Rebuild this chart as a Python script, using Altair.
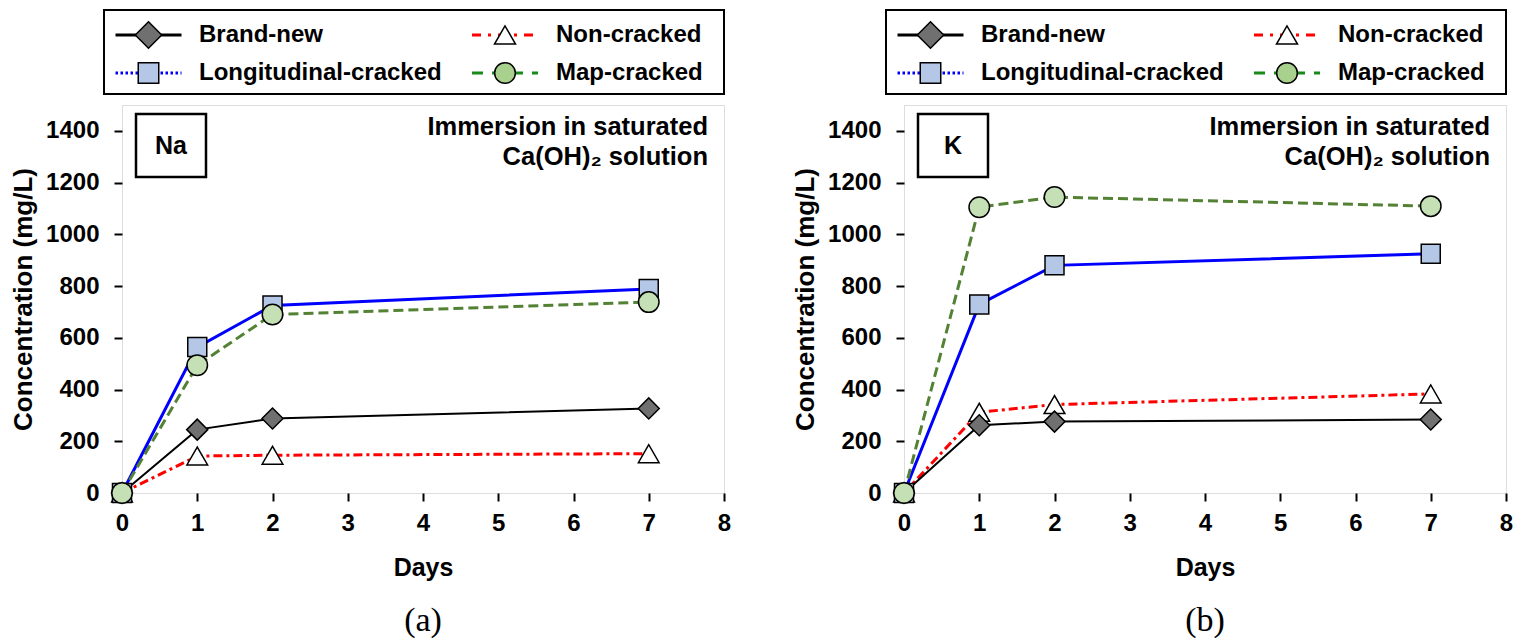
import altair as alt
import pandas as pd

# ---------------- data ----------------
DAYS = [0, 1, 2, 7]
SERIES = ["Brand-new", "Longitudinal-cracked", "Non-cracked", "Map-cracked"]

NA_BRAND_NEW = [0, 245, 288, 327]
NA_LONGITUDINAL = [0, 564, 725, 789]
NA_NON_CRACKED = [0, 143, 146, 152]
NA_MAP_CRACKED = [0, 494, 690, 738]

K_BRAND_NEW = [0, 262, 276, 284]
K_LONGITUDINAL = [0, 729, 880, 925]
K_NON_CRACKED = [0, 312, 342, 383]
K_MAP_CRACKED = [0, 1105, 1144, 1109]

X_TICKS = [0, 1, 2, 3, 4, 5, 6, 7, 8]
Y_TICKS = [0, 200, 400, 600, 800, 1000, 1200, 1400]
ANNOT_LINES = ["Immersion in saturated", "Ca(OH)\u2082 solution"]

# ---------------- styles ----------------
FONT = "Liberation Sans, Arial, sans-serif"
SERIF = "Liberation Serif, Times New Roman, serif"
W, H = 602, 388

STYLE = {
    "Brand-new": dict(line="black", lw=2, dash=None, shape="diamond", fill="#707070", size=441,
                      leg_line="black", leg_dash=None, leg_fill="#707070", leg_size=700),
    "Longitudinal-cracked": dict(line="#0000ff", lw=3, dash=None, shape="square", fill="#b4c7e7", size=361,
                                 leg_line="#0000ff", leg_dash=[2.5, 2.5], leg_fill="#b4c7e7", leg_size=420),
    "Non-cracked": dict(line="#ff0000", lw=3, dash=[9, 4, 3, 4], shape="triangle-up", fill="white", size=430,
                        leg_line="#ff0000", leg_dash=[9, 7, 3, 7], leg_fill="white", leg_size=440),
    "Map-cracked": dict(line="#548235", lw=3, dash=[10, 5], shape="circle", fill="#c5e0b4", size=420,
                        leg_line="#178a17", leg_dash=[11, 9], leg_fill="#a9d18e", leg_size=430),
}
DRAW_ORDER = ["Non-cracked", "Brand-new", "Longitudinal-cracked", "Map-cracked"]

# legend layout (pixels, relative to the legend box)
LEG_W, LEG_H, LEG_SHIFT = 620, 84, 18
MARK_X = [44.5, 401]
TEXT_X = [95, 452]
ROW_Y = [25, 63]
LINE_HALF = 33


def legend_chart():
    rows = []
    for i, s in enumerate(SERIES):
        col, row = i // 2, i % 2
        rows.append(dict(series=s, mx=MARK_X[col], lx0=MARK_X[col] - LINE_HALF,
                         lx1=MARK_X[col] + LINE_HALF, tx=TEXT_X[col], ry=ROW_Y[row]))
    leg = pd.DataFrame(rows)
    lx = alt.Scale(domain=[LEG_SHIFT, LEG_SHIFT + W], nice=False, zero=False)
    ly = alt.Scale(domain=[0, LEG_H], nice=False, zero=False, reverse=True)
    box_df = pd.DataFrame({"x0": [0], "x1": [LEG_W], "y0": [0], "y1": [LEG_H]})
    layers = [
        alt.Chart(box_df).mark_rect(fill="white", stroke="black", strokeWidth=2).encode(
            x=alt.X("x0:Q", scale=lx, axis=None), x2="x1:Q",
            y=alt.Y("y0:Q", scale=ly, axis=None), y2="y1:Q")
    ]
    for s in SERIES:
        st = STYLE[s]
        d = leg[leg["series"] == s]
        rk = dict(color=st["leg_line"], strokeWidth=3)
        if st["leg_dash"]:
            rk["strokeDash"] = st["leg_dash"]
        layers.append(alt.Chart(d).mark_rule(**rk).encode(
            x=alt.X("lx0:Q", scale=lx, axis=None), x2="lx1:Q",
            y=alt.Y("ry:Q", scale=ly, axis=None)))
        layers.append(alt.Chart(d).mark_point(
            shape=st["shape"], size=st["leg_size"], filled=True, fill=st["leg_fill"],
            stroke="black", strokeWidth=1.5, opacity=1).encode(
            x=alt.X("mx:Q", scale=lx, axis=None), y=alt.Y("ry:Q", scale=ly, axis=None)))
        layers.append(alt.Chart(d).mark_text(
            font=FONT, fontSize=24, fontWeight="bold", color="black", align="left",
            baseline="middle").encode(
            x=alt.X("tx:Q", scale=lx, axis=None), y=alt.Y("ry:Q", scale=ly, axis=None),
            text="series:N"))
    return alt.layer(*layers).properties(
        width=W, height=LEG_H, view=alt.ViewBackground(stroke="transparent"))


def panel(values, element, caption):
    xs = alt.Scale(domain=[0, 8], nice=False, zero=False)
    ys = alt.Scale(domain=[0, 1500], nice=False, zero=False)
    common = dict(grid=False, domain=False, ticks=True, tickSize=8, tickWidth=2, tickColor="black",
                  labelFont=FONT, labelFontSize=24, labelFontWeight="bold", labelColor="black",
                  labelFlush=False, labelOverlap=False, format="d",
                  titleFont=FONT, titleFontWeight="bold", titleColor="black")
    xaxis = alt.Axis(values=X_TICKS, title="Days", labelPadding=10, titleFontSize=25,
                     titlePadding=20, **common)
    yaxis = alt.Axis(values=Y_TICKS, title="Concentration (mg/L)", labelPadding=15,
                     titleFontSize=26, titlePadding=9, **common)
    layers = []
    for s in DRAW_ORDER:
        st = STYLE[s]
        df = pd.DataFrame({"day": DAYS, "conc": values[s], "series": s})
        base = alt.Chart(df).encode(x=alt.X("day:Q", scale=xs, axis=xaxis),
                                    y=alt.Y("conc:Q", scale=ys, axis=yaxis))
        lk = dict(color=st["line"], strokeWidth=st["lw"])
        if st["dash"]:
            lk["strokeDash"] = st["dash"]
        layers.append(base.mark_line(**lk))
        layers.append(base.mark_point(shape=st["shape"], size=st["size"], filled=True,
                                      fill=st["fill"], stroke="black", strokeWidth=1.5, opacity=1))
    lab = pd.DataFrame({"label": [element]})
    layers.append(alt.Chart(lab).mark_rect(fill="white", stroke="black", strokeWidth=2.5).encode(
        x=alt.value(14), x2=alt.value(84), y=alt.value(9), y2=alt.value(72)))
    layers.append(alt.Chart(lab).mark_text(font=FONT, fontSize=25, fontWeight="bold", color="black",
                                           align="center", baseline="middle").encode(
        x=alt.value(49), y=alt.value(41), text="label:N"))
    for i, t in enumerate(ANNOT_LINES):
        tdf = pd.DataFrame({"t": [t]})
        layers.append(alt.Chart(tdf).mark_text(font=FONT, fontSize=25.5, fontWeight="bold",
                                               color="black", align="right",
                                               baseline="alphabetic").encode(
            x=alt.value(586), y=alt.value(29.5 + 30 * i), text="t:N"))
    return alt.layer(*layers).properties(
        width=W, height=H,
        title=alt.TitleParams(caption, orient="bottom", font=SERIF, fontSize=34,
                              fontWeight="normal", color="black", anchor="middle",
                              frame="group", offset=24))


na_vals = {"Brand-new": NA_BRAND_NEW, "Longitudinal-cracked": NA_LONGITUDINAL,
           "Non-cracked": NA_NON_CRACKED, "Map-cracked": NA_MAP_CRACKED}
k_vals = {"Brand-new": K_BRAND_NEW, "Longitudinal-cracked": K_LONGITUDINAL,
          "Non-cracked": K_NON_CRACKED, "Map-cracked": K_MAP_CRACKED}

left = alt.vconcat(legend_chart(), panel(na_vals, "Na", "(a)"), spacing=8)
right = alt.vconcat(legend_chart(), panel(k_vals, "K", "(b)"), spacing=8)

chart = alt.hconcat(left, right, spacing=60).properties(
    padding={"left": 2, "top": 0, "right": 0, "bottom": 0}
).configure_view(stroke="black", strokeWidth=2).configure(background="white")

chart.save("out.html", embed_options={"renderer": "svg", "actions": False})
